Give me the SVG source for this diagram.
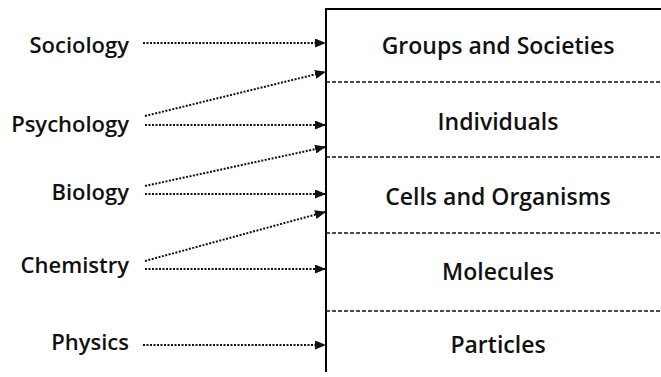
<svg xmlns="http://www.w3.org/2000/svg" width="661" height="377" viewBox="0 0 661 377">
<style>
text{font-family:"Open Sans","Liberation Sans",sans-serif;font-size:22px;font-weight:600;fill:#111;}
.l{text-anchor:end;}
.r{text-anchor:middle;font-size:23px;}
.c{stroke:#111;stroke-width:2;stroke-dasharray:2 1.5;fill:none;}
.sep{stroke:#111;stroke-width:1.5;stroke-dasharray:4 2;fill:none;}
.box{stroke:#000;stroke-width:2;fill:none;}
</style>
<defs>
<marker id="ah" markerWidth="11" markerHeight="9" refX="10" refY="4.5" orient="auto" markerUnits="userSpaceOnUse">
<path d="M0,0 L11,4.5 L0,9 Z" fill="#111"/>
</marker>
</defs>
<rect width="661" height="377" fill="#fff"/>
<g id="stack">
<path class="box" d="M326,372 V9 H661"/>
<line class="sep" x1="326" y1="82" x2="661" y2="82"/>
<line class="sep" x1="326" y1="157" x2="661" y2="157"/>
<line class="sep" x1="326" y1="233" x2="661" y2="233"/>
<line class="sep" x1="326" y1="311" x2="661" y2="311"/>
</g>
<g id="groups"><text class="r" x="498" y="54">Groups and Societies</text></g>
<g id="individuals"><text class="r" x="498" y="130">Individuals</text></g>
<g id="cells"><text class="r" x="498" y="205">Cells and Organisms</text></g>
<g id="molecules"><text class="r" x="498" y="280">Molecules</text></g>
<g id="particles"><text class="r" x="498" y="353">Particles</text></g>
<g id="sociology"><text class="l" x="129" y="53">Sociology</text></g>
<g id="psychology"><text class="l" x="129" y="132">Psychology</text></g>
<g id="biology"><text class="l" x="129" y="200">Biology</text></g>
<g id="chemistry"><text class="l" x="129" y="273">Chemistry</text></g>
<g id="physics"><text class="l" x="129" y="350">Physics</text></g>
<g id="connectors">
<line class="c" x1="143" y1="43" x2="325" y2="43" marker-end="url(#ah)"/>
<line class="c" x1="145" y1="116" x2="325" y2="72" marker-end="url(#ah)"/>
<line class="c" x1="145" y1="125" x2="325" y2="125" marker-end="url(#ah)"/>
<line class="c" x1="145" y1="186" x2="325" y2="147" marker-end="url(#ah)"/>
<line class="c" x1="145" y1="194" x2="325" y2="194" marker-end="url(#ah)"/>
<line class="c" x1="145" y1="261" x2="325" y2="212" marker-end="url(#ah)"/>
<line class="c" x1="145" y1="269" x2="325" y2="269" marker-end="url(#ah)"/>
<line class="c" x1="143" y1="345" x2="325" y2="345" marker-end="url(#ah)"/>
</g>
</svg>
